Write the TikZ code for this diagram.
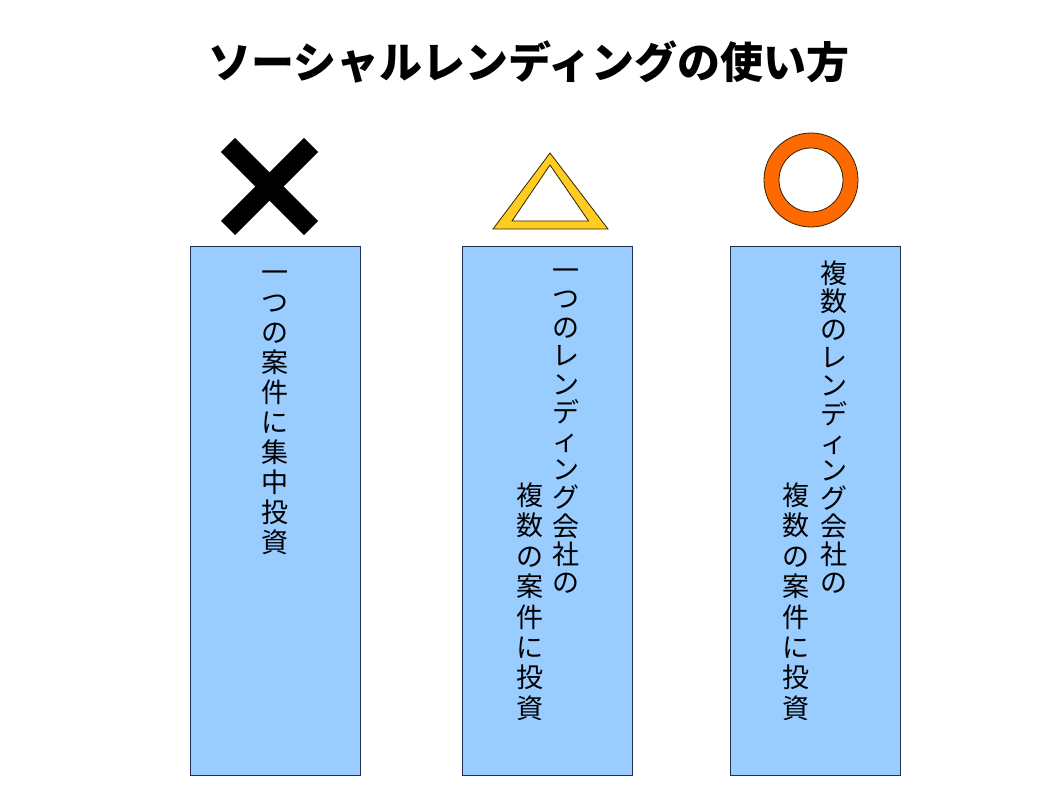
\documentclass[tikz,border=0pt]{standalone}
\usepackage{fontspec}
\newfontfamily\jpfont{Noto Sans CJK JP}
\definecolor{panelblue}{HTML}{99CCFF}
\definecolor{paneledge}{HTML}{1F2F4F}
\definecolor{trigold}{HTML}{FFCC22}
\definecolor{ringorange}{HTML}{FF6A00}
\definecolor{shapeedge}{HTML}{332200}
\newcommand\vs{\rule[-8pt]{0pt}{33pt}}
\newcommand\vsetup{\lineskiplimit -1000pt\relax\lineskip 0pt\relax}
\tikzset{
  panel/.style={draw=paneledge, fill=panelblue, line width=0.9pt, minimum width=170pt, minimum height=529pt, inner sep=0pt},
  vtext/.style={align=center, inner sep=0pt, anchor=north, font={\jpfont\fontsize{27}{#1}\selectfont\vsetup}},
  titletext/.style={font=\jpfont\bfseries\fontsize{43}{48}\selectfont, inner sep=0pt},
  symedge/.style={draw=shapeedge, line width=0.8pt, even odd rule}
}
\begin{document}
\begin{tikzpicture}[x=1pt,y=-1pt]
\useasboundingbox[fill=white] (0,0) rectangle (1058,794);

% title
\node[titletext] (title) at (529,62) {ソーシャルレンディングの使い方};

% symbols
\coordinate (xa) at (228,145); \coordinate (xb) at (311,228);
\coordinate (xc) at (311,145); \coordinate (xd) at (228,228);
\draw[black, line width=20pt, line cap=butt] (xa) -- (xb);
\draw[black, line width=20pt, line cap=butt] (xc) -- (xd);

\filldraw[symedge, fill=trigold]
  (550,153) -- (493,229) -- (608,229) -- cycle
  (550,165) -- (512,221) -- (588.5,221) -- cycle;

\filldraw[symedge, fill=ringorange]
  (811,180) circle[radius=47] (811,180) circle[radius=32];

% panels
\node[panel] (p1) at (275,510.5) {};
\node[panel] (p2) at (547,510.5) {};
\node[panel] (p3) at (815,510.5) {};

% texts
\node[vtext=30] (t1) at (275,257.3)
  {一\vs\\つ\vs\\の\vs\\案\vs\\件\vs\\に\vs\\集\vs\\中\vs\\投\vs\\資\vs};

\node[vtext=28.4] (t2a) at (566,255.3)
  {一\vs\\つ\vs\\の\vs\\レ\vs\\ン\vs\\デ\vs\\ィ\vs\\ン\vs\\グ\vs\\会\vs\\社\vs\\の\vs};
\node[vtext=30.4] (t2b) at (530,480.3)
  {複\vs\\数\vs\\の\vs\\案\vs\\件\vs\\に\vs\\投\vs\\資\vs};

\node[vtext=28.1] (t3a) at (834,258.3)
  {複\vs\\数\vs\\の\vs\\レ\vs\\ン\vs\\デ\vs\\ィ\vs\\ン\vs\\グ\vs\\会\vs\\社\vs\\の\vs};
\node[vtext=30.4] (t3b) at (796,480.3)
  {複\vs\\数\vs\\の\vs\\案\vs\\件\vs\\に\vs\\投\vs\\資\vs};
\end{tikzpicture}
\end{document}
